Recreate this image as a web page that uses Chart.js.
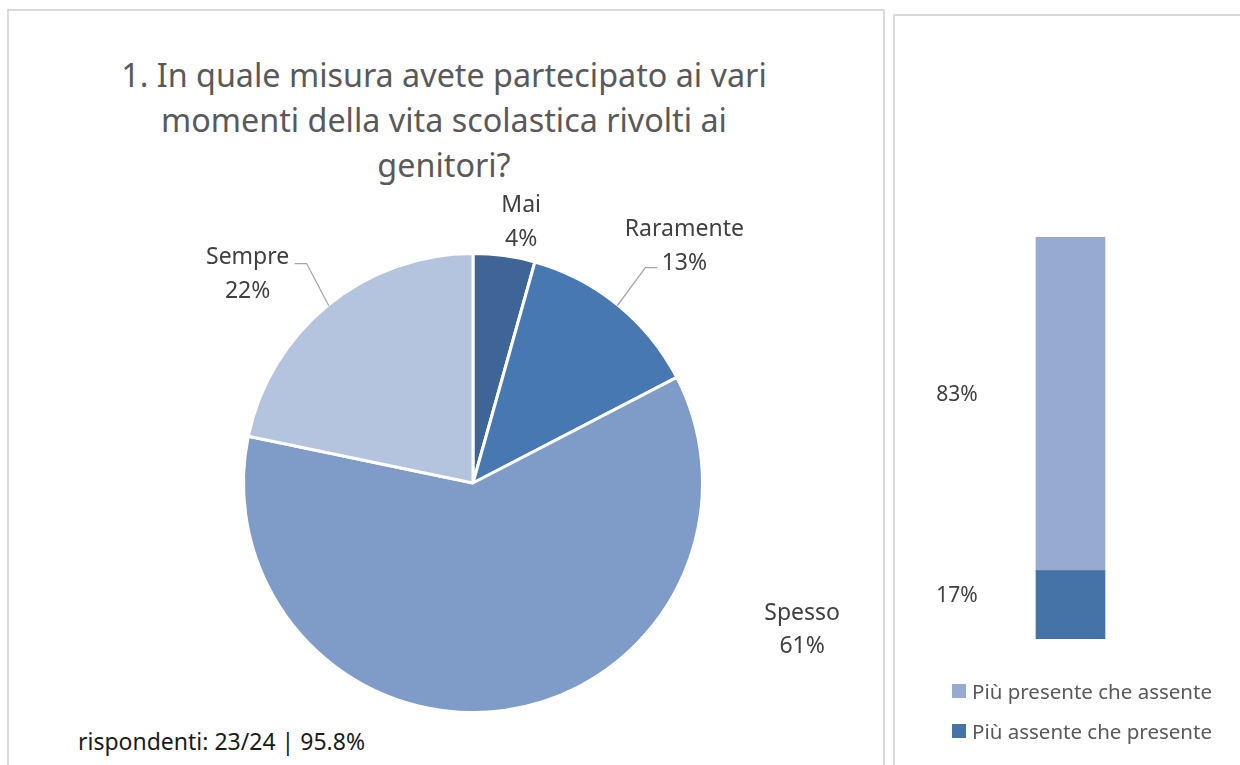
<!DOCTYPE html>
<html>
<head>
<meta charset="utf-8">
<script src="https://cdn.jsdelivr.net/npm/chart.js@4.4.0/dist/chart.umd.min.js"></script>
<style>
  html, body { margin: 0; padding: 0; background: #fff; width: 1240px; height: 765px; overflow: hidden; font-family: "Noto Sans", sans-serif; }
  .panel { position: absolute; border: 2px solid #d9d9d9; border-bottom: none; box-sizing: border-box; }
  #leftPanel { left: 7px; top: 9px; width: 878px; height: 770px; }
  #rightPanel { left: 893px; top: 14px; width: 360px; height: 770px; }
  #title { position: absolute; left: 0; top: 52px; width: 888px; text-align: center; font-size: 32.3px; line-height: 45px; color: #595959; }
  #note { position: absolute; left: 78px; top: 726px; font-size: 23px; line-height: 30px; color: #1a1a1a; white-space: nowrap; }
  canvas { position: absolute; top: 0; }
  #pieChart { left: 0; }
  #barChart { left: 893px; }
  #legend { position: absolute; left: 952px; top: 671px; }
  .item { height: 40px; display: flex; align-items: center; font-size: 20.5px; color: #595959; white-space: nowrap; }
  .box { width: 14px; height: 14px; margin-right: 6px; }
</style>
</head>
<body>
<div class="panel" id="leftPanel"></div>
<div class="panel" id="rightPanel"></div>
<div id="title">1. In quale misura avete partecipato ai vari<br>momenti della vita scolastica rivolti ai<br>genitori?</div>
<div id="note">rispondenti: 23/24 | 95.8%</div>
<canvas id="pieChart" width="884" height="765"></canvas>
<canvas id="barChart" width="347" height="765"></canvas>
<div id="legend"></div>

<script>
// ---- dati ----
const pieLabels = ["Mai", "Raramente", "Spesso", "Sempre"];
const pieValues = [1, 3, 14, 5]; // risposte su 23
const pieColors = ["#3e6596", "#4878b1", "#7f9bc8", "#b4c3de"];

const barSeries = ["Più assente che presente", "Più presente che assente"];
const barValues = [17, 83];
const barColors = ["#4572a7", "#97abd2"];

// ---- etichette della torta (con linee guida) ----
const pieLabelPlugin = {
  id: "pieLabels",
  afterDatasetsDraw(chart, args, opts) {
    const ctx = chart.ctx;
    const meta = chart.getDatasetMeta(0);
    const data = chart.data.datasets[0].data;
    const total = data.reduce((a, b) => a + b, 0);
    ctx.save();
    ctx.font = "23px 'Noto Sans'";
    ctx.fillStyle = "#404040";
    ctx.textAlign = "center";
    ctx.textBaseline = "alphabetic";
    meta.data.forEach((arc, i) => {
      const p = arc.getProps(["x", "y", "outerRadius", "startAngle", "endAngle"], true);
      const cx = p.x + opts.pos[i][0] * p.outerRadius;
      const cy = p.y + opts.pos[i][1] * p.outerRadius;
      const pct = Math.round(data[i] / total * 100) + "%";
      ctx.fillText(chart.data.labels[i], cx, cy - 8.5);
      ctx.fillText(pct, cx, cy + 25);

      const lead = opts.leaders[i];
      if (lead) {
        const mid = (p.startAngle + p.endAngle) / 2;
        const ex = p.x + Math.cos(mid) * (p.outerRadius - 1);
        const ey = p.y + Math.sin(mid) * (p.outerRadius - 1);
        const sx = cx + lead[0], sy = cy + lead[1];
        ctx.strokeStyle = "#a6a6a6";
        ctx.lineWidth = 1.3;
        ctx.beginPath();
        ctx.moveTo(sx, sy);
        ctx.lineTo(sx + lead[2], sy);
        ctx.lineTo(ex, ey);
        ctx.stroke();
      }
    });
    ctx.restore();
  }
};

new Chart(document.getElementById("pieChart"), {
  type: "pie",
  data: {
    labels: pieLabels,
    datasets: [{
      data: pieValues,
      backgroundColor: pieColors,
      borderColor: "#ffffff",
      borderWidth: 3,
      hoverOffset: 0,
      offset: 0
    }]
  },
  options: {
    responsive: false,
    animation: false,
    events: [],
    layout: { padding: { left: 242, top: 252, right: 180, bottom: 51 } },
    plugins: {
      legend: { display: false },
      tooltip: { enabled: false },
      pieLabels: {
        // posizione del centro etichetta, in raggi dal centro
        pos: [[0.21, -1.143], [0.921, -1.039], [1.434, 0.632], [-0.982, -0.917]],
        // [dx, dy, gomito] di partenza della linea guida
        leaders: [null, [-27, 23, -12], null, [47, -9, 12]]
      }
    }
  },
  plugins: [pieLabelPlugin]
});

// ---- colonna in pila a destra ----
const barLabelPlugin = {
  id: "barLabels",
  afterDatasetsDraw(chart, args, opts) {
    const ctx = chart.ctx;
    ctx.save();
    ctx.font = "21px 'Noto Sans'";
    ctx.fillStyle = "#404040";
    ctx.textAlign = "center";
    ctx.textBaseline = "alphabetic";
    chart.data.datasets.forEach((ds, i) => {
      const bar = chart.getDatasetMeta(i).data[0];
      const p = bar.getProps(["x", "y", "base"], true);
      ctx.fillText(ds.data[0] + "%", p.x + opts.dx, (p.y + p.base) / 2 + opts.dy);
    });
    ctx.restore();
  }
};

new Chart(document.getElementById("barChart"), {
  type: "bar",
  data: {
    labels: [""],
    datasets: barSeries.map((name, i) => ({
      label: name,
      data: [barValues[i]],
      backgroundColor: barColors[i],
      borderWidth: 0,
      barThickness: 69
    }))
  },
  options: {
    responsive: false,
    animation: false,
    events: [],
    layout: { padding: { left: 100, right: 92, top: 237, bottom: 126 } },
    scales: {
      x: { stacked: true, display: false },
      y: { stacked: true, display: false, min: 0, max: 100 }
    },
    plugins: {
      legend: { display: false },
      tooltip: { enabled: false },
      barLabels: { dx: -113.5, dy: -3 }
    }
  },
  plugins: [barLabelPlugin]
});

// legenda (serie in ordine inverso, come nel grafico)
const legend = document.getElementById("legend");
barSeries.slice().reverse().forEach((name, k) => {
  const i = barSeries.length - 1 - k;
  const item = document.createElement("div");
  item.className = "item";
  item.innerHTML = `<span class="box" style="background:${barColors[i]}"></span><span>${name}</span>`;
  legend.appendChild(item);
});
</script>
</body>
</html>
